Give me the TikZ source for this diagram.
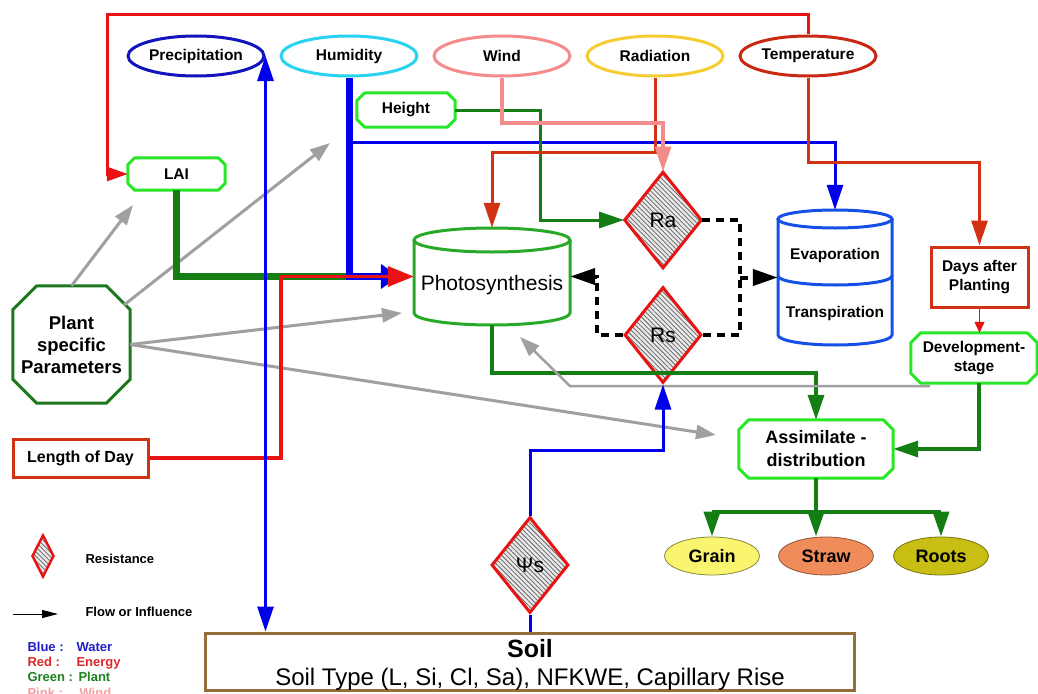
\documentclass[tikz,border=0pt]{standalone}
\usepackage{fontspec}
\setmainfont{Liberation Sans}
\usetikzlibrary{arrows.meta,shapes.geometric,patterns.meta,calc}
\definecolor{cRed}{RGB}{232,20,20}
\definecolor{cOrg}{RGB}{210,50,20}
\definecolor{cBlue}{RGB}{0,0,235}
\definecolor{cPrec}{RGB}{20,20,190}
\definecolor{cHum}{RGB}{40,210,240}
\definecolor{cPink}{RGB}{245,140,140}
\definecolor{cRad}{RGB}{245,205,50}
\definecolor{cTemp}{RGB}{200,40,20}
\definecolor{cLGreen}{RGB}{40,230,40}
\definecolor{cDGreen}{RGB}{20,125,20}
\definecolor{cMGreen}{RGB}{40,170,40}
\definecolor{cPlant}{RGB}{30,120,30}
\definecolor{cGray}{RGB}{160,160,160}
\definecolor{cSoil}{RGB}{150,110,60}
\definecolor{cEvap}{RGB}{20,80,230}
\definecolor{cGrain}{RGB}{250,245,110}
\definecolor{cStraw}{RGB}{240,140,90}
\definecolor{cRoots}{RGB}{200,190,20}
\definecolor{cLegBlue}{RGB}{30,30,200}
\definecolor{cLegRed}{RGB}{220,40,40}
\definecolor{cLegGreen}{RGB}{30,130,30}
\definecolor{cLegPink}{RGB}{240,160,160}
\newcommand\fsz[2]{\fontsize{#1}{#2}\selectfont}
\newcommand\chbox[3]{\draw[#3] ([xshift=#2]#1.north west) -- ([xshift=-#2]#1.north east) -- ([yshift=-#2]#1.north east) -- ([yshift=#2]#1.south east) -- ([xshift=-#2]#1.south east) -- ([xshift=#2]#1.south west) -- ([yshift=#2]#1.south west) -- ([yshift=-#2]#1.north west) -- cycle;}
\tikzset{
  ell/.style={ellipse, draw, line width=3pt, minimum width=136, minimum height=40, inner sep=0pt, font=\bfseries\fsz{15.5}{18}},
  box/.style={rectangle, inner sep=0pt, font=\bfseries\fsz{15.5}{19}},
  gbox/.style={line width=3pt, draw=cLGreen},
  cyl/.style={line width=3pt},
  res/.style={diamond, draw=cRed, line width=3pt, minimum width=77, minimum height=96, inner sep=0pt,
     preaction={fill=black!8}, pattern={Lines[angle=-45,distance=3.3pt,line width=0.9pt]}, pattern color=black!55,
     font=\fsz{21}{24}},
  outp/.style={ellipse, minimum width=95, minimum height=38, inner sep=0pt, line width=0.8pt, font=\bfseries\fsz{18}{21}},
  tip/.style={-{Triangle[length=25pt,width=16pt]}},
  gry/.style={line width=3pt, draw=cGray, -{Triangle[length=20pt,width=14pt]}},
  dsh/.style={line width=4pt, draw=black, dash pattern=on 8pt off 6pt},
  leg/.style={anchor=base west, font=\bfseries\fsz{13}{15}},
}
\begin{document}
\begin{tikzpicture}[x=1pt,y=-1pt,line join=miter]
\useasboundingbox[fill=white] (0,0) rectangle (1038,693);

% ---- weather ellipses
\node[ell, draw=cPrec] (prec) at (196,56) {Precipitation};
\node[ell, draw=cHum] (hum) at (349,56) {Humidity};
\node[ell, draw=cPink] (wind) at (502,56) {Wind};
\node[ell, draw=cRad] (rad) at (655,56) {Radiation};
\node[ell, draw=cTemp] (temp) at (808,56) {Temperature};

% ---- boxes
\node[box, minimum width=97, minimum height=32] (lai) at (176.5,174) {LAI};
\chbox{lai}{7pt}{gbox}
\node[box, minimum width=98, minimum height=34] (height) at (406,110) {Height};
\chbox{height}{8pt}{gbox}
\node[box, minimum width=126, minimum height=50, align=center] (dev) at (974,358) {Development-\\stage};
\chbox{dev}{10pt}{gbox}
\node[box, draw=cOrg, line width=3pt, minimum width=97, minimum height=60, align=center] (days) at (979.5,277) {Days after\\Planting};
\node[box, draw=cOrg, line width=3pt, minimum width=135, minimum height=38, font=\bfseries\fsz{16}{19}] (lod) at (80.5,458) {Length of Day};
\node[box, minimum width=117, minimum height=117, align=center, font=\bfseries\fsz{18.5}{22}] (plant) at (71.5,344.5) {Plant\\specific\\Parameters};
\chbox{plant}{24pt}{line width=3pt, draw=cPlant}
\node[box, minimum width=154, minimum height=58, align=center, font=\bfseries\fsz{18}{23}] (assim) at (816,449) {Assimilate -\\distribution};
\chbox{assim}{10pt}{gbox}

% ---- photosynthesis cylinder
\node[box, minimum width=156, minimum height=97] (photo) at (492,276.5) {};
\draw[cyl, draw=cMGreen] (414,240) -- (414,313) arc[start angle=180,end angle=0,x radius=78,y radius=12] -- (570,240);
\draw[cyl, draw=cMGreen] (492,240) ellipse[x radius=78,y radius=12];
\node[anchor=base, font=\fsz{21}{24}] (phototxt) at (492,290) {Photosynthesis};

% ---- evaporation cylinder
\node[box, minimum width=114, minimum height=135] (evap) at (835,277.5) {};
\draw[cyl, draw=cEvap] (778,219) -- (778,335) arc[start angle=180,end angle=0,x radius=57,y radius=10] -- (892,219);
\draw[cyl, draw=cEvap] (835,219) ellipse[x radius=57,y radius=9];
\draw[cyl, draw=cEvap] (778,276) arc[start angle=180,end angle=0,x radius=57,y radius=9];
\node[anchor=base, font=\bfseries\fsz{15.5}{18}] (evtxt) at (835,259) {Evaporation};
\node[anchor=base, font=\bfseries\fsz{15.5}{18}] (trtxt) at (835,317) {Transpiration};

% ---- resistances
\node[res] (ra) at (663,220) {Ra};
\node[res] (rs) at (663,335) {Rs};
\node[res] (psi) at (530,565) {Ψs};

% ---- outputs
\node[outp, fill=cGrain, draw=cGrain!55!black] (grain) at (712,556) {Grain};
\node[outp, fill=cStraw, draw=cStraw!60!black] (straw) at (826,556) {Straw};
\node[outp, fill=cRoots, draw=cRoots!60!black] (roots) at (941,556) {Roots};

% ---- soil
\node[draw=cSoil, line width=3pt, minimum width=649, minimum height=57, inner sep=0pt] (soil) at (529.5,661.5) {};
\node[anchor=base, font=\bfseries\fsz{25}{28}] (soiltitle) at (530,657) {Soil};
\node[anchor=base, font=\fsz{24}{28}] (soiltxt) at (530,685) {Soil Type (L, Si, Cl, Sa), NFKWE, Capillary Rise};

% ---- gray influences from plant parameters
\coordinate (g1) at (133,205);
\coordinate (g2) at (330,143);
\coordinate (g3) at (402,313);
\coordinate (g4) at (716,435);
\coordinate (p2) at (124,305);
\draw[gry] (plant.north) -- (g1);
\draw[gry] (p2) -- (g2);
\draw[gry] (plant.east) -- (g3);
\draw[gry] (plant.east) -- (g4);

% ---- thick inputs to photosynthesis
\draw[line width=7pt, draw=cDGreen] (lai.south) -- (lai.south |- photo.west) -- (hum.south |- photo.west);
\coordinate (bluetip) at ([xshift=-15pt]photo.west);
\draw[line width=7pt, draw=cBlue, -{Triangle[length=18pt,width=24pt]}] (hum.south) -- (hum.south |- photo.west) -- (bluetip);
\coordinate (lodturn) at (281,458);
\draw[line width=3.5pt, draw=cRed, -{Triangle[length=26pt,width=20pt]}] (lod.east) -- (lodturn) -- (lodturn |- photo.west) -- (photo.west);

% ---- precipitation water
\draw[line width=3pt, draw=cBlue, {Triangle[length=25pt,width=16pt]}-{Triangle[length=25pt,width=16pt]}] (prec.east) -- (prec.east |- soil.north);

% ---- humidity to evaporation
\coordinate (hb) at (349,142);
\draw[line width=3pt, draw=cBlue, tip] (hb) -- (hb -| evap.north) -- (evap.north);

% ---- height to Ra
\coordinate (hturn) at (540,110);
\draw[line width=3pt, draw=cDGreen, tip] (height.east) -- (hturn) -- (hturn |- ra.west) -- (ra.west);

% ---- radiation to photosynthesis
\coordinate (rturn) at (655,152);
\draw[line width=3pt, draw=cOrg, tip] (rad.south) -- (rturn) -- (rturn -| photo.north) -- (photo.north);

% ---- wind to Ra
\coordinate (wturn) at (502,123);
\draw[line width=3.5pt, draw=cPink, tip] (wind.south) -- (wturn) -- (wturn -| ra.north) -- (ra.north);

% ---- temperature
\coordinate (tturn) at (808,162);
\draw[line width=3pt, draw=cOrg, tip] (temp.south) -- (tturn) -- (tturn -| days.north) -- (days.north);
\coordinate (topR) at (808,15);
\coordinate (topL) at (107,15);
\draw[line width=3pt, draw=cRed, -{Triangle[length=21pt,width=14pt]}] (temp.north) -- (topR) -- (topL) -- (topL |- lai.west) -- (lai.west);
\draw[line width=1.2pt, draw=cRed, -{Triangle[length=11pt,width=10pt]}] (days.south) -- (days.south |- dev.north);

% ---- dashed resistance network
\coordinate (dl) at (597,335);
\coordinate (dr) at (740,218);
\draw[dsh, tip] (rs.west) -- (dl |- rs.west) -- (dl |- photo.east) -- (photo.east);
\draw[dsh] (ra.east) -- (dr |- ra.east) -- (dr |- rs.east) -- (rs.east);
\draw[dsh, tip] (dr |- evap.west) -- (evap.west);

% ---- photosynthesis to assimilate
\coordinate (pa) at (492,373);
\draw[line width=3.5pt, draw=cDGreen, tip] (photo.south) -- (pa) -- (pa -| assim.north) -- (assim.north);

% ---- development stage
\coordinate (gs) at (930,386);
\coordinate (gm) at (570,386);
\coordinate (gt) at (520,337);
\draw[gry, line width=2.5pt] (gs) -- (gm) -- (gt);
\coordinate (da) at (979,449);
\draw[line width=3.5pt, draw=cDGreen, tip] (dev.south -| da) -- (da) -- (assim.east);

% ---- soil water potential
\coordinate (pb) at (530,450);
\draw[line width=3pt, draw=cBlue, tip] (psi.north) -- (pb) -- (pb -| rs.south) -- (rs.south);
\draw[line width=3pt, draw=cBlue] (psi.south) -- (soil.north -| psi.south);

% ---- distribution
\coordinate (ob) at (816,512);
\draw[line width=4pt, draw=cDGreen] (assim.south) -- (ob);
\draw[line width=4pt, draw=cDGreen] (ob -| grain.north) -- (ob -| roots.north);
\draw[line width=4pt, draw=cDGreen, tip] (ob -| grain.north) -- (grain.north);
\draw[line width=4pt, draw=cDGreen, tip] (ob) -- (ob |- straw.north);
\draw[line width=4pt, draw=cDGreen, tip] (ob -| roots.north) -- (roots.north);

% ---- legend
\node[res, minimum width=22, minimum height=42, line width=2.5pt] (legres) at (43,556) {};
\node[leg] (legrestxt) at (82,563) {Resistance};
\coordinate (flowA) at (13,614);
\coordinate (flowB) at (58,614);
\draw[line width=1pt, -{Triangle[length=16pt,width=8pt]}] (flowA) -- (flowB);
\node[leg] (legflow) at (82,616) {Flow or Influence};
\node[leg, text=cLegBlue] (legblue) at (24,651) {\makebox[49pt][l]{Blue :}Water};
\node[leg, text=cLegRed] (legred) at (24,666) {\makebox[49pt][l]{Red :}Energy};
\node[leg, text=cLegGreen] (leggreen) at (24,681) {\makebox[51pt][l]{Green :}Plant};
\node[leg, text=cLegPink] (legpink) at (24,697) {\makebox[52pt][l]{Pink :}Wind};
\end{tikzpicture}
\end{document}
